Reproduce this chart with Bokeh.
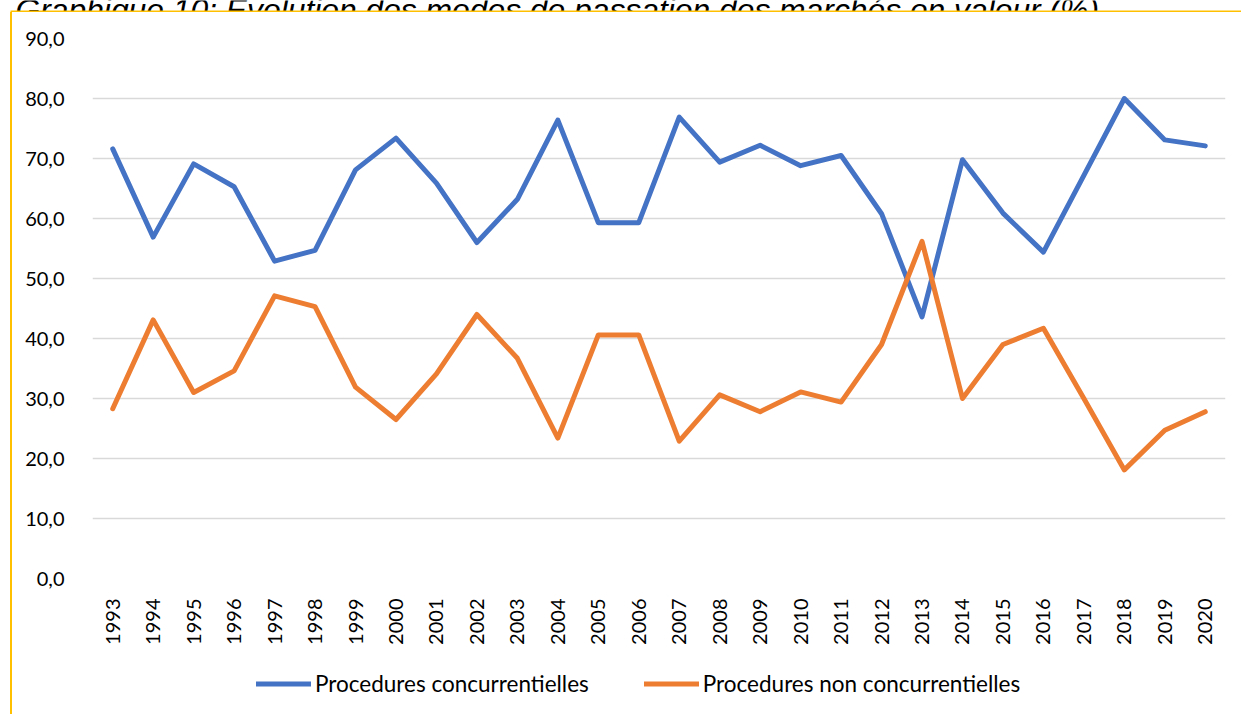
import math
from bokeh.plotting import figure
from bokeh.layouts import column
from bokeh.models import (ColumnDataSource, FactorRange, Range1d, FixedTicker,
                          Legend, LegendItem)
from bokeh.core.properties import value
from bokeh.embed import file_html
from bokeh.resources import INLINE

# ---- data ----
years = ["1993", "1994", "1995", "1996", "1997", "1998", "1999", "2000",
         "2001", "2002", "2003", "2004", "2005", "2006", "2007", "2008",
         "2009", "2010", "2011", "2012", "2013", "2014", "2015", "2016",
         "2017", "2018", "2019", "2020"]
concurrentielles = [71.6, 56.9, 69.1, 65.3, 52.9, 54.7, 68.1, 73.4,
                    65.9, 56.0, 63.2, 76.4, 59.3, 59.3, 76.9, 69.4,
                    72.2, 68.8, 70.5, 60.8, 43.6, 69.8, 60.9, 54.4,
                    67.2, 80.0, 73.1, 72.1]
non_concurrentielles = [28.3, 43.1, 31.0, 34.6, 47.1, 45.3, 31.9, 26.5,
                        34.1, 44.0, 36.7, 23.4, 40.6, 40.6, 22.9, 30.6,
                        27.8, 31.1, 29.4, 39.0, 56.2, 30.0, 39.0, 41.7,
                        30.0, 18.1, 24.7, 27.8]
series_names = ["Procedures concurrentielles", "Procedures non concurrentielles"]
y_ticks = [0, 10, 20, 30, 40, 50, 60, 70, 80, 90]
y_tick_labels = ["0,0", "10,0", "20,0", "30,0", "40,0", "50,0", "60,0",
                 "70,0", "80,0", "90,0"]
title_text = ["Graphique 10: Evolution des modes de passation des marchés en valeur (%)"]

BLUE = "#4472C4"
ORANGE = "#ED7D31"
GOLD = "#FFC000"
FONT = "Lato"
FS = "20px"

W, H = 1241, 714
TOP_H = 12      # strip holding the cut-off document title and the box's top edge
BOX_X = 10      # left edge of the gold chart box
BORDER = 2
PW = W - BOX_X - BORDER
CHART_H = 640
LEG_H = H - TOP_H - CHART_H
box_style = {"margin-left": f"{BOX_X}px", "border-left": f"{BORDER}px solid {GOLD}"}
NAN = float("nan")


def bare(fig):
    fig.outline_line_color = None
    fig.xgrid.visible = False
    fig.ygrid.visible = False
    return fig


# ---- strip above the chart: document title, cut off by the page top
title_fig = bare(figure(width=W, height=TOP_H, x_range=Range1d(0, W),
                        y_range=Range1d(TOP_H, 0), output_backend="svg",
                        toolbar_location=None, min_border=0, frame_align=False,
                        x_axis_location=None, y_axis_location=None))
title_fig.text(x=[15], y=[9.5], text=title_text,
               text_font=value("Liberation Sans"), text_font_style="italic",
               text_font_size="31.8px", text_color="#000000",
               text_baseline="alphabetic", text_align="left")
title_fig.segment(x0=[BOX_X], y0=[TOP_H - 1], x1=[W + 5], y1=[TOP_H - 1],
                  line_color=GOLD, line_width=BORDER)

# ---- the chart itself (its left gold edge is a CSS border)
source = ColumnDataSource(dict(year=years, conc=concurrentielles,
                               nonconc=non_concurrentielles))

p = figure(width=PW, height=CHART_H,
           x_range=FactorRange(factors=years, range_padding=0),
           y_range=Range1d(0, 90),
           output_backend="svg", toolbar_location=None, frame_align=False,
           min_border_left=80, min_border_right=16,
           min_border_top=26, min_border_bottom=CHART_H - 566)
p.styles = box_style
p.outline_line_color = None

r1 = p.line("year", "conc", source=source, line_color=BLUE, line_width=5,
            line_join="round", line_cap="round")
r2 = p.line("year", "nonconc", source=source, line_color=ORANGE, line_width=5,
            line_join="round", line_cap="round")

p.yaxis.ticker = FixedTicker(ticks=y_ticks)
p.yaxis.major_label_overrides = {t: l for t, l in zip(y_ticks, y_tick_labels)}
for ax in (p.xaxis, p.yaxis):
    ax.axis_line_color = None
    ax.major_tick_line_color = None
    ax.minor_tick_line_color = None
    ax.major_label_text_font = FONT
    ax.major_label_text_font_size = FS
    ax.major_label_text_color = "#000000"
p.yaxis.major_label_standoff = 22
p.xaxis.major_label_orientation = math.pi / 2
p.xaxis.major_label_standoff = 14

p.xgrid.grid_line_color = None
p.ygrid.grid_line_color = "#D9D9D9"
p.ygrid.grid_line_width = 1.7

# ---- legend strip under the chart (its glyph renderers hold no visible data)
leg_fig = bare(figure(width=PW, height=LEG_H, x_range=Range1d(0, 1),
                      y_range=Range1d(0, 1), output_backend="svg",
                      toolbar_location=None, min_border=0, frame_align=False,
                      x_axis_location=None, y_axis_location=None))
leg_fig.styles = box_style
k1 = leg_fig.line(x=[NAN], y=[NAN], line_color=BLUE, line_width=5,
                  line_cap="round")
k2 = leg_fig.line(x=[NAN], y=[NAN], line_color=ORANGE, line_width=5,
                  line_cap="round")
legend = Legend(items=[LegendItem(label=series_names[0], renderers=[k1]),
                       LegendItem(label=series_names[1], renderers=[k2])],
                location="left", orientation="horizontal",
                glyph_width=55, glyph_height=20, label_standoff=4,
                spacing=55, padding=0, margin=256 - BOX_X - BORDER,
                border_line_color=None, background_fill_alpha=0,
                label_text_font=FONT, label_text_font_size="22.5px",
                label_text_color="#000000")
leg_fig.add_layout(legend, "center")

layout = column(title_fig, p, leg_fig, spacing=0)
open("out.html", "w").write(file_html(layout, INLINE))
